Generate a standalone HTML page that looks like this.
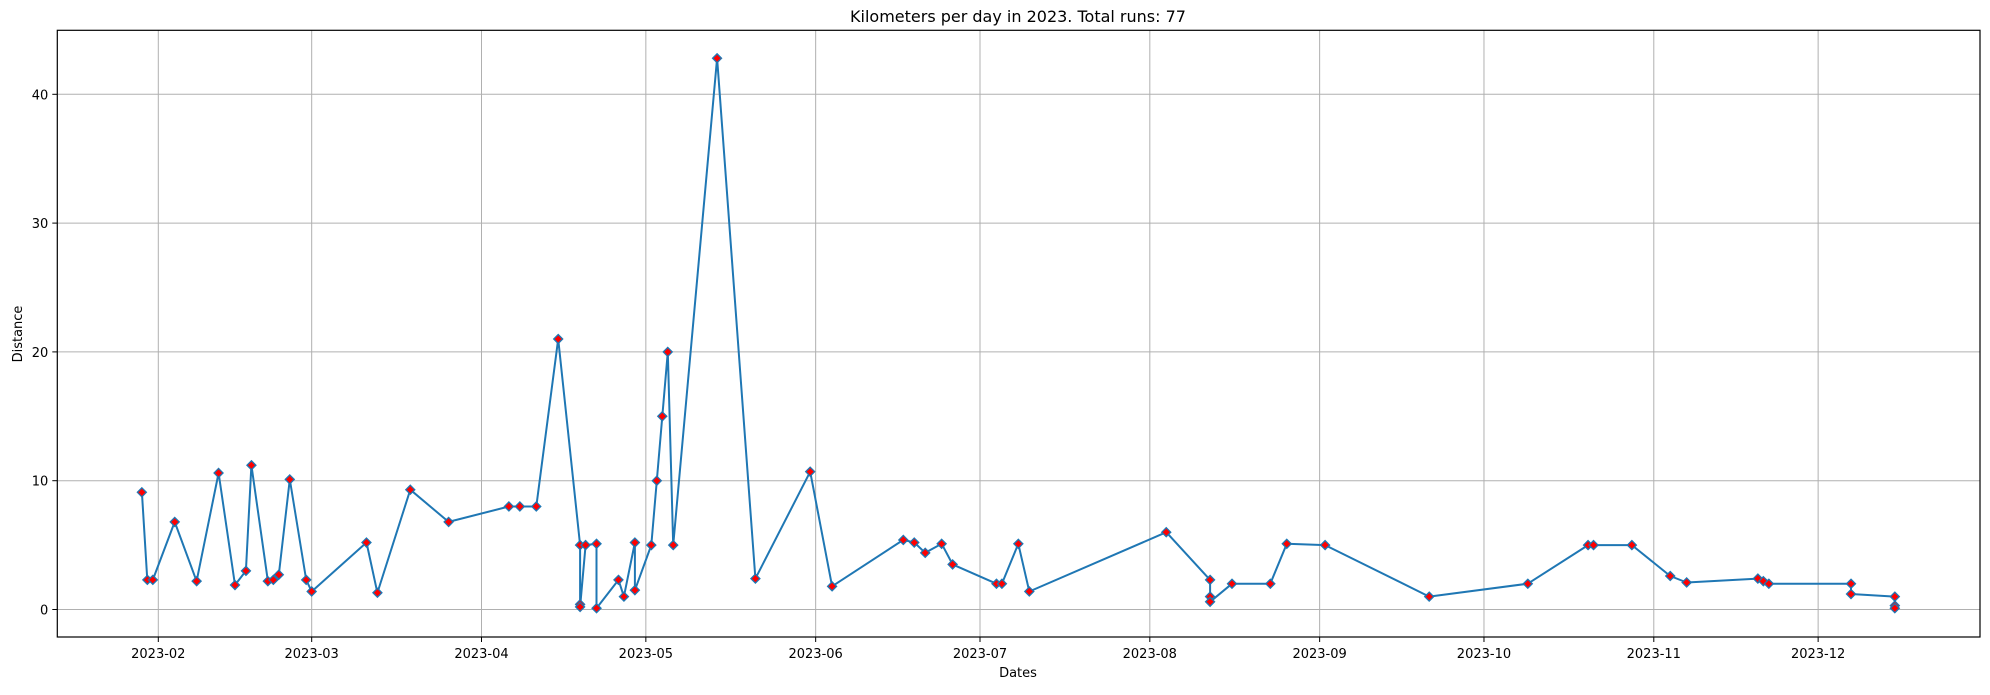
<!DOCTYPE html>
<html><head><meta charset="utf-8"><style>
body{margin:0;background:#fff}
svg text{font-family:"DejaVu Sans","Liberation Sans",sans-serif;fill:#000}
</style></head><body>
<svg id="chart" width="1990" height="690" xmlns="http://www.w3.org/2000/svg">
<rect width="1990" height="690" fill="#fff"/>
<text x="1018" y="22" font-size="16" text-anchor="middle">Kilometers per day in 2023. Total runs: 77</text>
<g id="grid"></g>
<g id="axes"></g>
<g id="series"></g>
<text x="1018" y="677" font-size="13" text-anchor="middle">Dates</text>
<text x="0" y="0" font-size="13" text-anchor="middle" transform="translate(22,334) rotate(-90)">Distance</text>
</svg>
<script>
const dates=["2023-01-29","2023-01-30","2023-01-31","2023-02-04","2023-02-08","2023-02-12","2023-02-15","2023-02-17","2023-02-18","2023-02-21","2023-02-22","2023-02-23","2023-02-25","2023-02-28","2023-03-01","2023-03-11","2023-03-13","2023-03-19","2023-03-26","2023-04-06","2023-04-08","2023-04-11","2023-04-15","2023-04-19","2023-04-19","2023-04-19","2023-04-20","2023-04-22","2023-04-22","2023-04-26","2023-04-27","2023-04-29","2023-04-29","2023-05-02","2023-05-03","2023-05-04","2023-05-05","2023-05-06","2023-05-14","2023-05-21","2023-05-31","2023-06-04","2023-06-17","2023-06-19","2023-06-21","2023-06-24","2023-06-26","2023-07-04","2023-07-05","2023-07-08","2023-07-10","2023-08-04","2023-08-12","2023-08-12","2023-08-12","2023-08-16","2023-08-23","2023-08-26","2023-09-02","2023-09-21","2023-10-09","2023-10-20","2023-10-21","2023-10-28","2023-11-04","2023-11-07","2023-11-20","2023-11-21","2023-11-22","2023-12-07","2023-12-07","2023-12-15","2023-12-15","2023-12-15"];
const distances=[9.1,2.3,2.3,6.8,2.2,10.6,1.9,3.0,11.2,2.2,2.3,2.7,10.1,2.3,1.4,5.2,1.3,9.3,6.8,8.0,8.0,8.0,21.0,5.0,0.4,0.2,5.0,5.1,0.1,2.3,1.0,5.2,1.5,5.0,10.0,15.0,20.0,5.0,42.8,2.4,10.7,1.8,5.4,5.2,4.4,5.1,3.5,2.0,2.0,5.1,1.4,6.0,2.3,1.0,0.6,2.0,2.0,5.1,5.0,1.0,2.0,5.0,5.0,5.0,2.6,2.1,2.4,2.2,2.0,2.0,1.2,1.0,0.3,0.1];
const xTickDates=["2023-02-01","2023-03-01","2023-04-01","2023-05-01","2023-06-01","2023-07-01","2023-08-01","2023-09-01","2023-10-01","2023-11-01","2023-12-01"];
const xTickLabels=["2023-02","2023-03","2023-04","2023-05","2023-06","2023-07","2023-08","2023-09","2023-10","2023-11","2023-12"];
const yTicks=[0,10,20,30,40];

const NS="http://www.w3.org/2000/svg";
const L=57.3,R=1980,T=30.3,B=637;
const feb1=Date.UTC(2023,1,1),DAY=86400000;
function X(d){const p=d.split("-");const t=Date.UTC(+p[0],+p[1]-1,+p[2]);return 158.3+(t-feb1)/DAY*5.478;}
function Y(v){return 609.5-v*12.88;}
function mk(tag,attrs,parent){const e=document.createElementNS(NS,tag);for(const k in attrs)e.setAttribute(k,attrs[k]);parent.appendChild(e);return e;}
const grid=document.getElementById("grid"),axes=document.getElementById("axes"),series=document.getElementById("series");
xTickDates.forEach((d,i)=>{const x=X(d);
 const g=mk("line",{x1:x,x2:x,y1:T,y2:B,stroke:"#b0b0b0","stroke-width":1},grid);
 
 
 const tk=mk("line",{x1:x,x2:x,y1:B,y2:B+5,stroke:"#000","stroke-width":1},axes);
 
 
 const t=mk("text",{x:x,y:B+21,"font-size":13,"text-anchor":"middle"},axes);t.textContent=xTickLabels[i];
 
 
});
yTicks.forEach(v=>{const y=Y(v);
 const g=mk("line",{x1:L,x2:R,y1:y,y2:y,stroke:"#b0b0b0","stroke-width":1},grid);
 
 
 const tk=mk("line",{x1:L-5,x2:L,y1:y,y2:y,stroke:"#000","stroke-width":1},axes);
 
 
 const t=mk("text",{x:L-9,y:y+5,"font-size":13,"text-anchor":"end"},axes);t.textContent=v;
 
 
});
const frame=mk("rect",{x:L,y:T,width:R-L,height:B-T,fill:"none",stroke:"#000","stroke-width":1.2},axes);


const pts=dates.map((d,i)=>X(d).toFixed(1)+","+Y(distances[i]).toFixed(1)).join(" ");
const line=mk("polyline",{points:pts,fill:"none",stroke:"#1f77b4","stroke-width":2,"stroke-linejoin":"round"},series);


dates.forEach((d,i)=>{const x=X(d),y=Y(distances[i]),r=4.5;
 const m=mk("polygon",{points:`${x},${y-r} ${x+r},${y} ${x},${y+r} ${x-r},${y}`,fill:"#ff0000",stroke:"#1f77b4","stroke-width":1.3},series);
 
 
});
</script>
</body></html>
